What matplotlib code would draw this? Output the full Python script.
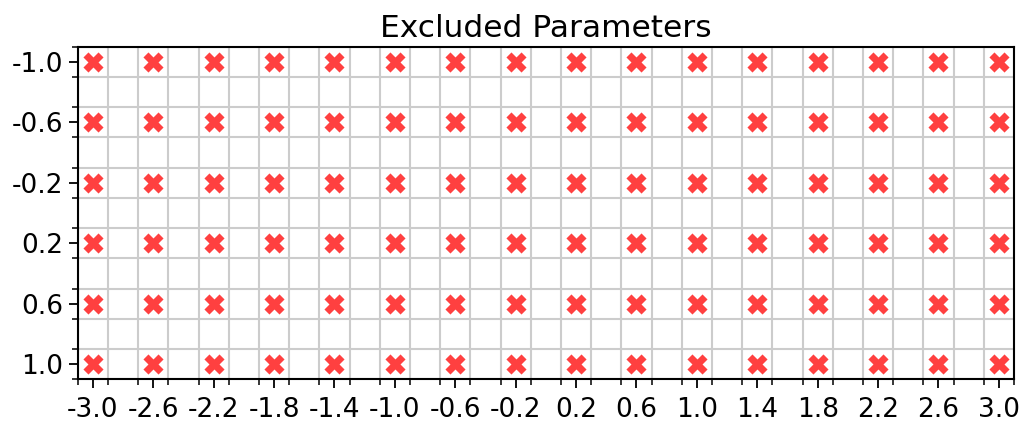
import matplotlib
matplotlib.use("Agg")
import matplotlib.pyplot as plt
import numpy as np

# parameter grid that was excluded
x_values = [-3.0, -2.6, -2.2, -1.8, -1.4, -1.0, -0.6, -0.2, 0.2, 0.6, 1.0, 1.4, 1.8, 2.2, 2.6, 3.0]
y_values = [-1.0, -0.6, -0.2, 0.2, 0.6, 1.0]
x_labels = ["-3.0", "-2.6", "-2.2", "-1.8", "-1.4", "-1.0", "-0.6", "-0.2",
            "0.2", "0.6", "1.0", "1.4", "1.8", "2.2", "2.6", "3.0"]
y_labels = ["-1.0", "-0.6", "-0.2", "0.2", "0.6", "1.0"]

xx, yy = np.meshgrid(x_values, y_values)

fig = plt.figure(figsize=(10.22, 4.25), dpi=100)
ax = fig.add_axes([77.7 / 1022, 1 - 379.3 / 425, (1014 - 77.7) / 1022, (379.3 - 46.7) / 425])

ax.scatter(xx.ravel(), yy.ravel(), marker="X", s=210, color="red", alpha=0.75,
           linewidths=0, zorder=3)

ax.set_xlim(-3.1, 3.1)
ax.set_ylim(1.1, -1.1)

ax.set_xticks(x_values)
ax.set_xticklabels(x_labels)
ax.set_yticks(y_values)
ax.set_yticklabels(y_labels)

# cell borders sit halfway between the grid points
ax.set_xticks(np.arange(-3.1, 3.11, 0.2), minor=True)
ax.set_yticks(np.arange(-1.1, 1.11, 0.2), minor=True)
ax.grid(which="minor", color="#cccccc", linewidth=1.5)
ax.grid(which="major", visible=False)
ax.set_axisbelow(True)

ax.tick_params(which="major", length=6.5, width=1.3, labelsize=19, pad=4)
ax.tick_params(axis="x", which="major", pad=6)
ax.tick_params(which="minor", length=4, width=1.1)
for sp in ax.spines.values():
    sp.set_linewidth(1.5)

ax.set_title("Excluded Parameters", fontsize=22.5, pad=7)

fig.savefig("out.png", dpi=100)
